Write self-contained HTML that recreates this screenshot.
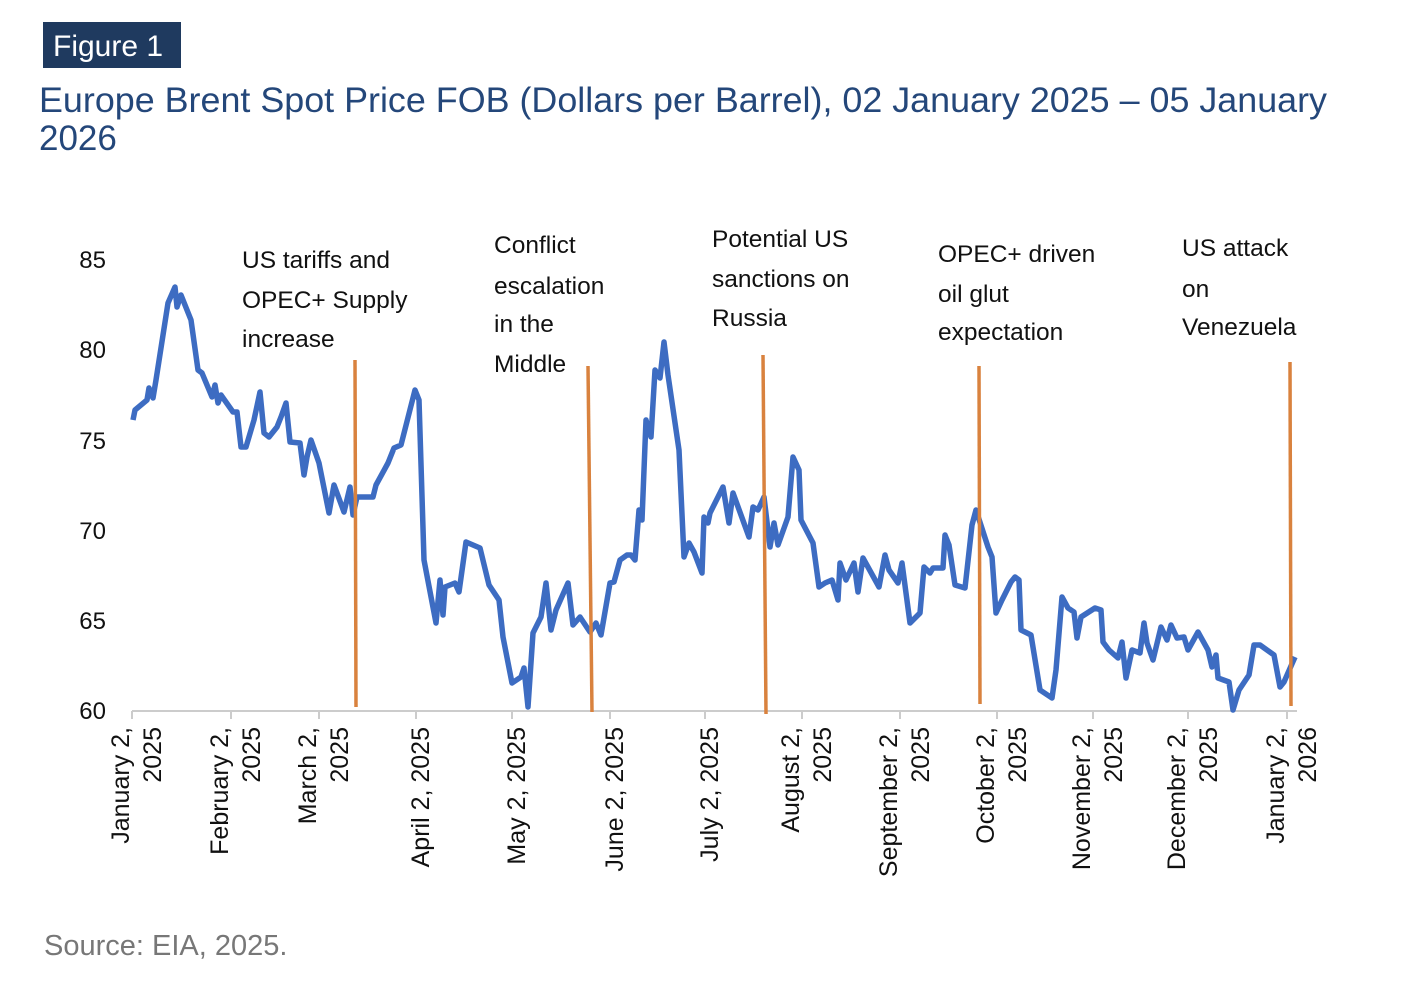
<!DOCTYPE html>
<html><head><meta charset="utf-8"><style>
body{margin:0;background:#fff;width:1402px;height:992px;overflow:hidden;font-family:"Liberation Sans",sans-serif}
</style></head><body>
<svg width="1402" height="992" xmlns="http://www.w3.org/2000/svg" style="position:absolute;left:0;top:0">
<rect x="43" y="22" width="138" height="46" fill="#1f3a5f"/>
<text x="53" y="56" font-size="30" fill="#fff" font-family="Liberation Sans">Figure 1</text>
<text x="39" y="112" font-size="35" fill="#24477a" font-family="Liberation Sans" textLength="1288" lengthAdjust="spacingAndGlyphs">Europe Brent Spot Price FOB (Dollars per Barrel), 02 January 2025 – 05 January</text>
<text x="39" y="150" font-size="35" fill="#24477a" font-family="Liberation Sans">2026</text>
<g font-size="24" fill="#111" text-anchor="end">
<text x="106" y="268">85</text><text x="106" y="358">80</text><text x="106" y="449">75</text>
<text x="106" y="539">70</text><text x="106" y="629">65</text><text x="106" y="719">60</text>
</g>
<line x1="132" y1="711" x2="1297" y2="711" stroke="#ccc" stroke-width="2"/>
<g stroke="#ccc" stroke-width="2">
<line x1="132" y1="711" x2="132" y2="719"/><line x1="231" y1="711" x2="231" y2="719"/><line x1="319" y1="711" x2="319" y2="719"/><line x1="416" y1="711" x2="416" y2="719"/><line x1="512" y1="711" x2="512" y2="719"/><line x1="610" y1="711" x2="610" y2="719"/><line x1="705" y1="711" x2="705" y2="719"/><line x1="802" y1="711" x2="802" y2="719"/><line x1="900" y1="711" x2="900" y2="719"/><line x1="997" y1="711" x2="997" y2="719"/><line x1="1093" y1="711" x2="1093" y2="719"/><line x1="1188" y1="711" x2="1188" y2="719"/><line x1="1287" y1="711" x2="1287" y2="719"/>
</g>
<g font-size="25" fill="#111" text-anchor="end">
<text transform="translate(129,727) rotate(-90)">January 2,</text><text transform="translate(161,727) rotate(-90)">2025</text>
<text transform="translate(228,727) rotate(-90)">February 2,</text><text transform="translate(260,727) rotate(-90)">2025</text>
<text transform="translate(316,727) rotate(-90)">March 2,</text><text transform="translate(348,727) rotate(-90)">2025</text>
<text transform="translate(429,727) rotate(-90)">April 2, 2025</text>
<text transform="translate(525,727) rotate(-90)">May 2, 2025</text>
<text transform="translate(623,727) rotate(-90)">June 2, 2025</text>
<text transform="translate(718,727) rotate(-90)">July 2, 2025</text>
<text transform="translate(799,727) rotate(-90)">August 2,</text><text transform="translate(831,727) rotate(-90)">2025</text>
<text transform="translate(897,727) rotate(-90)">September 2,</text><text transform="translate(929,727) rotate(-90)">2025</text>
<text transform="translate(994,727) rotate(-90)">October 2,</text><text transform="translate(1026,727) rotate(-90)">2025</text>
<text transform="translate(1090,727) rotate(-90)">November 2,</text><text transform="translate(1122,727) rotate(-90)">2025</text>
<text transform="translate(1185,727) rotate(-90)">December 2,</text><text transform="translate(1217,727) rotate(-90)">2025</text>
<text transform="translate(1284,727) rotate(-90)">January 2,</text><text transform="translate(1316,727) rotate(-90)">2026</text>
</g>
<g font-size="24.5" fill="#111">
<text x="242" y="268">US tariffs and</text><text x="242" y="308">OPEC+ Supply</text><text x="242" y="347">increase</text>
<text x="494" y="253">Conflict</text><text x="494" y="294">escalation</text><text x="494" y="332">in the</text><text x="494" y="372">Middle</text>
<text x="712" y="247">Potential US</text><text x="712" y="287">sanctions on</text><text x="712" y="326">Russia</text>
<text x="938" y="262">OPEC+ driven</text><text x="938" y="302">oil glut</text><text x="938" y="340">expectation</text>
<text x="1182" y="256">US attack</text><text x="1182" y="297">on</text><text x="1182" y="335">Venezuela</text>
</g>
<polyline fill="none" stroke="#3d6cc2" stroke-width="5.5" stroke-linejoin="round" points="133,420 135,410 147,400 149,388 153,398 156,380 168,303 175,287 177,307 181,295 191,320 198,370 202,373 212,397 215,385 218,403 221,395 233,412 237,412 241,447 246,447 254,420 260,392 264,433 269,437 277,427 281,417 286,403 290,442 300,443 304,475 307,457 311,440 319,463 329,513 334,485 344,512 350,487 353,515 357,497 373,497 376,485 388,463 394,448 401,445 415,390 419,400 424,560 436,623 440,580 443,615 445,587 455,583 459,592 466,542 480,548 489,585 499,600 503,637 512,683 521,677 524,668 528,707 533,633 541,617 546,583 551,630 556,610 568,583 573,625 580,617 590,632 596,623 601,635 610,583 614,582 620,560 627,555 631,555 635,560 639,510 642,520 646,420 651,437 655,370 660,378 664,342 668,375 679,450 684,557 689,543 694,552 702,573 704,517 708,523 710,513 723,487 729,523 733,493 749,537 753,507 758,510 764,497 770,547 774,523 778,545 788,517 793,457 799,470 801,520 813,543 819,587 825,583 832,580 838,600 840,563 846,580 854,563 858,592 863,558 879,587 885,555 889,570 898,583 902,563 910,623 920,613 924,567 930,573 933,568 943,568 945,535 949,545 955,585 965,588 972,525 976,510 988,547 992,557 996,613 1002,600 1011,582 1015,577 1019,580 1021,630 1031,635 1040,690 1052,698 1056,670 1062,597 1068,608 1074,612 1077,638 1081,617 1095,608 1101,610 1103,642 1109,650 1118,658 1122,642 1126,678 1132,650 1140,653 1144,623 1147,643 1153,660 1161,627 1167,640 1171,625 1177,638 1184,637 1188,650 1198,632 1208,650 1212,667 1216,655 1218,678 1229,682 1233,710 1239,690 1249,675 1254,645 1260,645 1274,655 1280,687 1284,682 1295,657"/>
<g stroke="#d9823e" stroke-width="3.5">
<line x1="355" y1="360" x2="356" y2="707"/>
<line x1="588" y1="366" x2="592" y2="712"/>
<line x1="763" y1="355" x2="766" y2="714"/>
<line x1="979" y1="366" x2="980" y2="704"/>
<line x1="1290" y1="362" x2="1291" y2="706"/>
</g>
<text x="44" y="955" font-size="29" fill="#777">Source: EIA, 2025.</text>
</svg>
</body></html>
